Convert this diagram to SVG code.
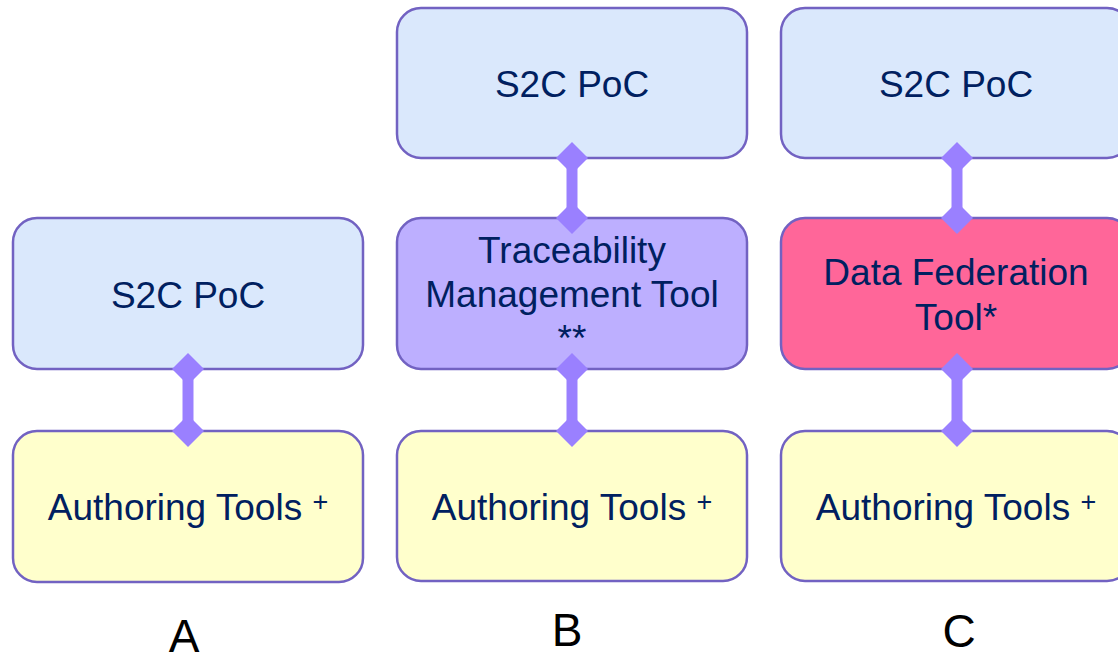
<svg xmlns="http://www.w3.org/2000/svg" width="1118" height="656" viewBox="0 0 1118 656">
  <style>
    .box { stroke: #7262c2; stroke-width: 2.5; }
    .poc { fill: #dae8fc; }
    .auth { fill: #ffffcc; }
    .trace { fill: #bdafff; }
    .fed { fill: #ff6699; }
    .t { font-family: "Liberation Sans", Arial, sans-serif; font-size: 37px; fill: #002060; text-anchor: middle; }
    .sup { font-size: 27px; }
    .lbl { font-family: "Liberation Sans", Arial, sans-serif; font-size: 46px; fill: #000000; text-anchor: middle; }
    .link { stroke: #9a80ff; stroke-width: 11; fill: none; marker-start: url(#dia); marker-end: url(#dia); }
  </style>
  <defs>
    <marker id="dia" markerUnits="userSpaceOnUse" viewBox="-16 -16 32 32" refX="0" refY="0" markerWidth="32" markerHeight="32" orient="auto">
      <path d="M-16 0 L0 -16 L16 0 L0 16 Z" fill="#9a80ff"/>
    </marker>
  </defs>

  <rect width="1118" height="656" fill="#ffffff"/>

  <!-- Column A -->
  <g id="a-poc">
    <rect class="box poc" x="13" y="218" width="350" height="151" rx="24"/>
    <text class="t" x="188" y="308">S2C PoC</text>
  </g>
  <g id="a-auth">
    <rect class="box auth" x="13" y="431" width="350" height="151" rx="24"/>
    <text class="t" x="188" y="520">Authoring Tools <tspan class="sup" dy="-9">+</tspan></text>
  </g>

  <!-- Column B -->
  <g id="b-poc">
    <rect class="box poc" x="397" y="8" width="350" height="150" rx="24"/>
    <text class="t" x="572" y="97">S2C PoC</text>
  </g>
  <g id="b-trace">
    <rect class="box trace" x="397" y="218" width="350" height="151" rx="24"/>
    <text class="t" x="572" y="263">Traceability</text>
    <text class="t" x="572" y="307">Management Tool</text>
    <text class="t" x="572" y="351">**</text>
  </g>
  <g id="b-auth">
    <rect class="box auth" x="397" y="431" width="350" height="150" rx="24"/>
    <text class="t" x="572" y="520">Authoring Tools <tspan class="sup" dy="-9">+</tspan></text>
  </g>

  <!-- Column C -->
  <g id="c-poc">
    <rect class="box poc" x="781" y="8" width="350" height="150" rx="24"/>
    <text class="t" x="956" y="97">S2C PoC</text>
  </g>
  <g id="c-fed">
    <rect class="box fed" x="781" y="218" width="350" height="151" rx="24"/>
    <text class="t" x="956" y="285">Data Federation</text>
    <text class="t" x="956" y="330">Tool*</text>
  </g>
  <g id="c-auth">
    <rect class="box auth" x="781" y="431" width="350" height="150" rx="24"/>
    <text class="t" x="956" y="520">Authoring Tools <tspan class="sup" dy="-9">+</tspan></text>
  </g>

  <!-- Connectors -->
  <g id="connectors">
    <path class="link" d="M188 369 L188 431"/>
    <path class="link" d="M572 158 L572 218"/>
    <path class="link" d="M572 369 L572 431"/>
    <path class="link" d="M957 158 L957 218"/>
    <path class="link" d="M957 369 L957 431"/>
  </g>

  <!-- Column labels -->
  <g id="labels">
    <text class="lbl" x="184" y="652">A</text>
    <text class="lbl" x="567" y="646">B</text>
    <text class="lbl" x="959" y="647">C</text>
  </g>
</svg>
